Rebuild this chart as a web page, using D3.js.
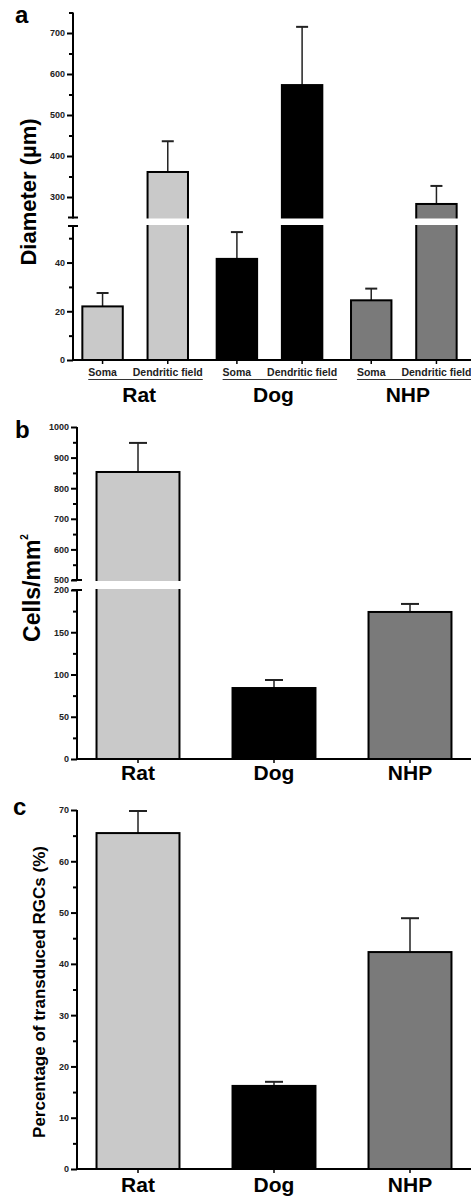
<!DOCTYPE html>
<html>
<head>
<meta charset="utf-8">
<script src="https://cdn.jsdelivr.net/npm/d3@7"></script>
<style>
body { margin: 0; background: #fff; }
svg { display: block; font-family: "Liberation Sans", Arial, sans-serif; font-weight: bold; }
</style>
</head>
<body>
<svg id="chart" width="471" height="1196"></svg>
<script>
// ---- data ----
var species = ["Rat", "Dog", "NHP"];
var measures = ["Soma", "Dendritic field"];
var speciesColors = ["#c9c9c9", "#000000", "#7a7a7a"];

// panel a: diameter (um), mean and SEM
var somaMean = [22, 41.5, 24.5];
var somaSem = [5.5, 11, 4.8];
var fieldMean = [361, 573, 283];
var fieldSem = [75, 142, 44];

// panel b: cells / mm2
var densityMean = [853, 84, 174];
var densitySem = [95, 9.5, 9.5];

// panel c: % transduced RGCs
var transducedMean = [65.5, 16.2, 42.3];
var transducedSem = [4.3, 0.8, 6.6];

// tick values
var diamLowTicks = [0, 20, 40];
var diamLowMinor = [10, 30, 50];
var diamHighTicks = [300, 400, 500, 600, 700];
var diamHighMinor = [350, 450, 550, 650, 750];
var densLowTicks = [0, 50, 100, 150, 200];
var densLowMinor = [25, 75, 125, 175];
var densHighTicks = [500, 600, 700, 800, 900, 1000];
var densHighMinor = [550, 650, 750, 850, 950];
var pctTicks = [0, 10, 20, 30, 40, 50, 60, 70];
var pctMinor = [5, 15, 25, 35, 45, 55, 65];

var svg = d3.select("#chart");
var W = 471;

// piecewise scale for the broken axes
function brokenScale(lo, hi) {
    return function(v) { return v <= lo.domain()[1] ? lo(v) : hi(v); };
}

function yAxisSegment(g, x, scale, major, minor) {
    var seg = g.append("g").attr("transform", "translate(" + x + ",0)");
    seg.append("g")
        .call(d3.axisLeft(scale).tickValues(minor).tickSize(4).tickFormat(""))
        .call(function(s) { s.select(".domain").remove(); });
    seg.append("g")
        .call(d3.axisLeft(scale).tickValues(major).tickSize(6).tickPadding(2).tickFormat(d3.format("d")))
        .call(function(s) { s.select(".domain").remove(); });
    seg.selectAll(".tick line").attr("stroke", "#000").attr("stroke-width", 2);
    seg.selectAll(".tick text")
        .attr("font-family", "'Liberation Sans', Arial, sans-serif")
        .attr("font-size", 9).attr("font-weight", "bold").attr("fill", "#222");
    seg.append("line")
        .attr("x1", 0).attr("x2", 0)
        .attr("y1", scale.range()[0] + 1).attr("y2", scale.range()[1])
        .attr("stroke", "#000").attr("stroke-width", 2);
    return seg;
}

function breakCaps(g, x, ys) {
    ys.forEach(function(y) {
        g.append("line").attr("x1", x - 5).attr("x2", x + 5)
            .attr("y1", y).attr("y2", y)
            .attr("stroke", "#000").attr("stroke-width", 2);
    });
}

function drawBars(g, bars, y, capW) {
    // bars: [{x, w, mean, sem, color}]
    g.selectAll(null).data(bars).enter().append("line")
        .attr("x1", function(d) { return d.x + d.w / 2; })
        .attr("x2", function(d) { return d.x + d.w / 2; })
        .attr("y1", function(d) { return y(d.mean); })
        .attr("y2", function(d) { return y(d.mean + d.sem); })
        .attr("stroke", "#222").attr("stroke-width", 1.5);
    g.selectAll(null).data(bars).enter().append("line")
        .attr("x1", function(d) { return d.x + d.w / 2 - capW / 2; })
        .attr("x2", function(d) { return d.x + d.w / 2 + capW / 2; })
        .attr("y1", function(d) { return y(d.mean + d.sem); })
        .attr("y2", function(d) { return y(d.mean + d.sem); })
        .attr("stroke", "#222").attr("stroke-width", 2);
    g.selectAll(null).data(bars).enter().append("rect")
        .attr("x", function(d) { return d.x; })
        .attr("width", function(d) { return d.w; })
        .attr("y", function(d) { return y(d.mean); })
        .attr("height", function(d) { return y(0) - y(d.mean); })
        .attr("fill", function(d) { return d.color; })
        .attr("stroke", "#000").attr("stroke-width", 2);
}

function xBaseline(g, x0, y0, centers) {
    g.append("line").attr("x1", x0).attr("x2", W).attr("y1", y0).attr("y2", y0)
        .attr("stroke", "#000").attr("stroke-width", 2);
    centers.forEach(function(cx) {
        g.append("line").attr("x1", cx).attr("x2", cx).attr("y1", y0).attr("y2", y0 + 4)
            .attr("stroke", "#000").attr("stroke-width", 1.5);
    });
}

function panelLetter(t, x, y) {
    svg.append("text").attr("x", x).attr("y", y).attr("font-size", 24).text(t);
}

// ================= panel a =================
var ga = svg.append("g");
var axA = 73, baseA = 360;
var loA = d3.scaleLinear().domain([0, 55]).range([baseA, 226]);
var hiA = d3.scaleLinear().domain([250, 750]).range([217.5, 12.5]);
var yA = brokenScale(loA, hiA);

var xGroupA = d3.scaleBand().domain(species).range([68, 471]);
var xSubA = d3.scaleBand().domain(measures).range([0, xGroupA.step()])
    .paddingInner(0.38).paddingOuter(0.22);

var barsA = [];
species.forEach(function(s, i) {
    barsA.push({x: xGroupA(s) + xSubA("Soma"), w: xSubA.bandwidth(), mean: somaMean[i], sem: somaSem[i], color: speciesColors[i]});
    barsA.push({x: xGroupA(s) + xSubA("Dendritic field"), w: xSubA.bandwidth(), mean: fieldMean[i], sem: fieldSem[i], color: speciesColors[i]});
});
drawBars(ga, barsA, yA, 12);
// white gap of the axis break
ga.append("rect").attr("x", axA + 2).attr("width", W).attr("y", hiA.range()[0] + 1)
    .attr("height", loA.range()[1] - hiA.range()[0] - 2).attr("fill", "#fff");
yAxisSegment(ga, axA, loA, diamLowTicks, diamLowMinor);
yAxisSegment(ga, axA, hiA, diamHighTicks, diamHighMinor);
breakCaps(ga, axA, [hiA.range()[0], loA.range()[1]]);
xBaseline(ga, axA, baseA, barsA.map(function(d) { return d.x + d.w / 2; }));

// sub labels with a rule under each group
species.forEach(function(s) {
    var c1 = xGroupA(s) + xSubA("Soma") + xSubA.bandwidth() / 2;
    var c2 = xGroupA(s) + xSubA("Dendritic field") + xSubA.bandwidth() / 2;
    var t1 = ga.append("text").attr("x", c1).attr("y", 376).attr("text-anchor", "middle")
        .attr("font-size", 10.5).attr("fill", "#222").text("Soma");
    var t2 = ga.append("text").attr("x", c2).attr("y", 376).attr("text-anchor", "middle")
        .attr("font-size", 10.5).attr("fill", "#222").text("Dendritic field");
    var w1 = t1.node().getComputedTextLength(), w2 = t2.node().getComputedTextLength();
    ga.append("line").attr("x1", c1 - w1 / 2).attr("x2", c2 + w2 / 2)
        .attr("y1", 379.5).attr("y2", 379.5).attr("stroke", "#333").attr("stroke-width", 1.2);
    ga.append("text").attr("x", xGroupA(s) + xGroupA.bandwidth() / 2 + 4).attr("y", 402)
        .attr("text-anchor", "middle").attr("font-size", 21).text(s);
});
ga.append("text").attr("transform", "translate(36,192) rotate(-90)")
    .attr("text-anchor", "middle").attr("font-size", 22).text("Diameter (\u00b5m)");
panelLetter("a", 15, 23);

// ================= panel b =================
var gb = svg.append("g");
var axB = 77, baseB = 759;
var loB = d3.scaleLinear().domain([0, 200]).range([baseB, 590]);
var hiB = d3.scaleLinear().domain([500, 1000]).range([580, 427]);
var yB = brokenScale(loB, hiB);
var xB = d3.scaleBand().domain(species).range([70, 478]).paddingInner(0.39).paddingOuter(0.195);

var barsB = species.map(function(s, i) {
    return {x: xB(s), w: xB.bandwidth(), mean: densityMean[i], sem: densitySem[i], color: speciesColors[i]};
});
drawBars(gb, barsB, yB, 18);
gb.append("rect").attr("x", axB + 2).attr("width", W).attr("y", hiB.range()[0] + 1)
    .attr("height", loB.range()[1] - hiB.range()[0] - 2).attr("fill", "#fff");
yAxisSegment(gb, axB, loB, densLowTicks, densLowMinor);
yAxisSegment(gb, axB, hiB, densHighTicks, densHighMinor);
breakCaps(gb, axB, [hiB.range()[0], loB.range()[1]]);
xBaseline(gb, axB, baseB, barsB.map(function(d) { return d.x + d.w / 2; }));
species.forEach(function(s) {
    gb.append("text").attr("x", xB(s) + xB.bandwidth() / 2).attr("y", 780)
        .attr("text-anchor", "middle").attr("font-size", 21).text(s);
});
var tb = gb.append("text").attr("transform", "translate(40,588) rotate(-90)")
    .attr("text-anchor", "middle").attr("font-size", 23);
tb.append("tspan").text("Cells/mm");
tb.append("tspan").attr("font-size", 10).attr("dy", -12).text("2");
panelLetter("b", 15, 438);

// ================= panel c =================
var gc = svg.append("g");
var axC = 77, baseC = 1169;
var yC = d3.scaleLinear().domain([0, 70]).range([baseC, 810]);
var xC = d3.scaleBand().domain(species).range([70, 478]).paddingInner(0.39).paddingOuter(0.195);

var barsC = species.map(function(s, i) {
    return {x: xC(s), w: xC.bandwidth(), mean: transducedMean[i], sem: transducedSem[i], color: speciesColors[i]};
});
drawBars(gc, barsC, yC, 18);
yAxisSegment(gc, axC, yC, pctTicks, pctMinor);
xBaseline(gc, axC, baseC, barsC.map(function(d) { return d.x + d.w / 2; }));
species.forEach(function(s) {
    gc.append("text").attr("x", xC(s) + xC.bandwidth() / 2).attr("y", 1192)
        .attr("text-anchor", "middle").attr("font-size", 21).text(s);
});
gc.append("text").attr("transform", "translate(45,992) rotate(-90)")
    .attr("text-anchor", "middle").attr("font-size", 17).text("Percentage of transduced RGCs (%)");
panelLetter("c", 13, 815);
</script>
</body>
</html>
